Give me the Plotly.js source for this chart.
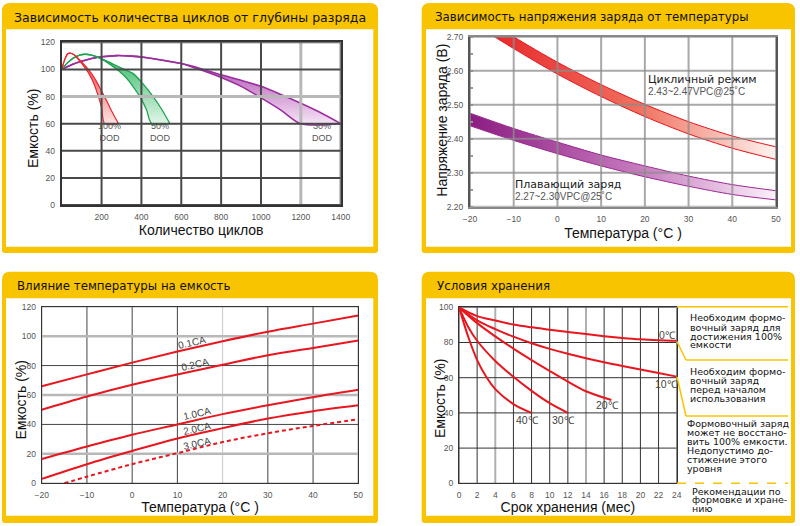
<!DOCTYPE html>
<html><head><meta charset="utf-8">
<script src="https://cdn.plot.ly/plotly-3.0.1.min.js"></script>
<style>html,body{margin:0;padding:0;background:#fff}#chart{width:800px;height:526px}</style>
</head><body><div id="chart"></div>
<script>
// ---------- Panel 1: cycles vs depth of discharge ----------
const cycTicks = [200, 400, 600, 800, 1000, 1200, 1400];
const capTicks1 = [0, 20, 40, 60, 80, 100, 120];
const dod100InX = [0, 10, 20, 30, 42, 60, 80, 100, 120, 140, 160, 180, 200, 216, 285];
const dod100InY = [100, 105, 109, 111.5, 112, 111, 108, 104.5, 100.5, 96, 90, 82, 72, 60, 60];
const dod100OutX = [0, 10, 20, 30, 42, 60, 80, 100, 125, 150, 175, 200, 225, 250, 270, 285];
const dod100OutY = [100, 105, 109, 111.5, 112, 111, 108.5, 105.5, 101.5, 97, 91, 84, 77, 69.5, 64, 60];
const dod50InX = [0, 30, 60, 90, 117, 150, 200, 250, 290, 326, 360, 393, 425, 452, 543];
const dod50InY = [100, 105, 108.5, 110.5, 111.2, 110.5, 107.5, 103, 98.5, 93.5, 87, 79.8, 70.5, 60, 60];
const dod50OutX = [0, 30, 60, 90, 117, 150, 200, 250, 300, 359, 410, 460, 500, 543];
const dod50OutY = [100, 105, 108.5, 110.5, 111.2, 110.5, 108, 104.5, 101, 96.9, 89, 79.8, 71, 60];
const dod30InX = [0, 50, 100, 150, 200, 276, 350, 420, 500, 600, 700, 800, 900, 1000, 1100, 1200, 1400];
const dod30InY = [100, 103.5, 106, 108, 109.3, 110.2, 109.8, 108.8, 107, 104.3, 99.5, 94, 87.5, 79, 70, 60, 60];
const dod30OutX = [0, 50, 100, 150, 200, 276, 350, 420, 500, 600, 700, 800, 900, 1000, 1100, 1200, 1300, 1400];
const dod30OutY = [100, 103.5, 106, 108, 109.3, 110.2, 109.8, 108.8, 107, 104.3, 100.5, 96, 92, 87.5, 81.5, 75, 68, 60];
const dodLabels = ['100%<br>DOD', '50%<br>DOD', '30%<br>DOD'];
const dodLabelX = [242, 496, 1311];
const dodLabelY = [53.5, 53.5, 53.5];

// ---------- Panel 2: charge voltage vs temperature ----------
const tempT = [-20, -10, 0, 10, 20, 30, 40, 50];
const cycleUpper = [2.785, 2.70, 2.625, 2.559, 2.501, 2.45, 2.408, 2.376];
const cycleLower = [2.745, 2.665, 2.59, 2.524, 2.465, 2.414, 2.372, 2.339];
const floatUpper = [2.475, 2.43, 2.39, 2.352, 2.32, 2.29, 2.265, 2.247];
const floatLower = [2.438, 2.395, 2.356, 2.32, 2.288, 2.26, 2.236, 2.22];
const voltTicks = [2.2, 2.3, 2.4, 2.5, 2.6, 2.7];
const tempTicks = [-20, -10, 0, 10, 20, 30, 40, 50];

// ---------- Panel 3: temperature effect on capacity ----------
const capT = [-20, -10, 0, 10, 20, 30, 40, 50];
const cap01 = [66, 74, 82, 89.5, 96.5, 103, 108.5, 114];
const cap02 = [50, 59, 67, 74, 80.5, 87, 92, 97];
const cap10 = [16.5, 25, 33, 40, 47, 53, 58.5, 63.5];
const cap20 = [3, 13, 22, 30.5, 37.5, 44, 49, 53];
const cap30T = [-15, -10, 0, 10, 20, 30, 40, 50];
const cap30 = [0, 4.5, 13, 20.5, 28, 34, 39, 43.5];
const caLabels = ['0.1CA', '0.2CA', '1.0CA', '2.0CA', '3.0CA'];
const caLabelX = [13.2, 13.9, 14.3, 14.3, 14.3];
const caLabelY = [95.5, 80.7, 47.5, 37.5, 27.3];

// ---------- Panel 4: storage ----------
const st0X = [0, 2, 4, 6, 8, 10, 12, 14, 16, 18, 20, 22, 24];
const st0Y = [100, 95, 92.5, 90.2, 88.6, 87.3, 86, 84.8, 83.6, 82.6, 81.8, 81.3, 81];
const st10X = [0, 2, 4, 6, 8, 10, 12, 14, 16, 18, 20, 22, 24];
const st10Y = [100, 92.6, 87.6, 83.3, 79.6, 76.4, 73.6, 71.1, 68.8, 66.7, 64.7, 62.7, 60.6];
const st20X = [0, 2, 4, 6, 8, 10, 12, 14, 16.8];
const st20Y = [100, 91, 83.5, 76.5, 70, 63.8, 57.8, 52.3, 47.3];
const st30X = [0, 1, 2, 4, 6, 8, 10, 12];
const st30Y = [100, 89, 81, 69.5, 60.5, 52.5, 45.5, 40];
const st40X = [0, 0.5, 1, 2, 3, 4, 6, 8];
const st40Y = [100, 91.5, 83.5, 70, 60.5, 53.5, 45, 40];
const stLabels = ['0℃', '10℃', '20℃', '30℃', '40℃'];
const stLabelX = [23.0, 22.9, 16.4, 11.5, 7.5];
const stLabelY = [84.5, 56.6, 44.3, 35.8, 35.8];
const monthTicks = [0, 2, 4, 6, 8, 10, 12, 14, 16, 18, 20, 22, 24];
const capTicks4 = [0, 20, 40, 60, 80, 100];
const noteBlocks = [
  ['Необходим формо-', 'вочный заряд для', 'достижения 100%', 'емкости'],
  ['Необходим формо-', 'вочный заряд', 'перед началом', 'использования'],
  ['Формовочный заряд', 'может не восстано-', 'вить 100% емкости.', 'Недопустимо до-', 'стижение этого', 'уровня'],
  ['Рекомендации по', 'формовке и хране-', 'нию']
];

const panelTitles = ['Зависимость количества циклов от глубины разряда', 'Зависимость напряжения заряда от температуры',
  'Влияние температуры на емкость', 'Условия хранения'];
const xTitles = ['Количество циклов', 'Температура (°C )', 'Температура (°C )', 'Срок хранения (мес)'];
const yTitles = ['Емкость (%)', 'Напряжение заряда (В)', 'Емкость (%)', 'Емкость (%)'];

// ---------- layout helpers ----------
const W = 800, H = 526;
const fx = v => v / W;
const fy = v => 1 - v / H;
const YEL = '#f8c400';
const RED = '#e8161e';
const ranges = {'': [[0, 1400], [0, 120]], '2': [[-20, 50], [2.2, 2.7]], '3': [[-20, 50], [0, 120]], '4': [[0, 24], [0, 100]]};

function rr(x0, y0, x1, y1, r, rb) {
  const p = (x, y) => fx(x).toFixed(5) + ',' + fy(y).toFixed(5);
  return 'M' + p(x0, y0 + r) + ' Q' + p(x0, y0) + ' ' + p(x0 + r, y0) + ' L' + p(x1 - r, y0) + ' Q' + p(x1, y0) + ' ' + p(x1, y0 + r) +
    ' L' + p(x1, y1 - rb) + ' Q' + p(x1, y1) + ' ' + p(x1 - rb, y1) + ' L' + p(x0 + rb, y1) + ' Q' + p(x0, y1) + ' ' + p(x0, y1 - rb) + ' Z';
}

const frames = [[2, 3, 378, 253], [421.7, 3, 795, 253], [2, 271.7, 378, 523], [421.7, 271.7, 795, 523]];
const inners = [[6, 29.3, 373.3, 246.7], [426, 29.3, 791, 246.7], [6, 298.3, 373.3, 515.7], [426, 298.3, 791, 515.7]];
const titlePos = [[12.3, 17], [433.3, 17], [15, 285.7], [435, 286]];
const titleSize = [12.5, 11.8, 11.8, 11.8];
const yTitlePos = [[33, 129], [441.7, 120], [20, 400.5], [440, 399]];

const shapes = [];
frames.forEach(f => shapes.push({type: 'path', xref: 'paper', yref: 'paper', path: rr(f[0], f[1], f[2], f[3], 8, 3), fillcolor: YEL, line: {width: 0}, layer: 'below'}));
inners.forEach(f => shapes.push({type: 'rect', xref: 'paper', yref: 'paper', x0: fx(f[0]), x1: fx(f[2]), y0: fy(f[3]), y1: fy(f[1]), fillcolor: '#ffffff', line: {width: 0}, layer: 'below'}));

// grid lines at the axis tick values
const dark = (c, w) => ({color: c || '#333', width: w || 1});
const gray = w => ({color: '#b8b8b8', width: w || 2.5});
function grid(ax, xv, yv, xStyle, yStyle, layer) {
  const xr = ranges[ax][0], yr = ranges[ax][1];
  xv.forEach(v => { const s = xStyle(v); if (s) shapes.push({type: 'line', xref: 'x' + ax, yref: 'y' + ax, x0: v, x1: v, y0: yr[0], y1: yr[1], line: s, layer: layer}); });
  yv.forEach(v => { const s = yStyle(v); if (s) shapes.push({type: 'line', xref: 'x' + ax, yref: 'y' + ax, x0: xr[0], x1: xr[1], y0: v, y1: v, line: s, layer: layer}); });
}
grid('', cycTicks, capTicks1, v => v === 1200 ? gray(3) : dark('#484848', 2), v => v === 80 ? gray(3) : dark('#484848', 2), 'above');
grid('2', tempTicks, voltTicks, v => dark('rgba(140,140,140,0.75)', 2), v => dark('rgba(140,140,140,0.75)', 2), 'above');
grid('3', tempTicks, capTicks1, v => v === 20 ? dark('#c8c8c8') : dark('#444'),
  v => (v === 20 || v === 60 || v === 100) ? gray() : dark('#444'), 'below');
grid('4', monthTicks, capTicks4, v => (v === 4 || v === 14) ? {color: '#b0b0b0', width: 2} : dark(), v => dark(), 'below');

// yellow separators on the right of panel 4
const seg = (x0, y0, x1, y1, dash) => shapes.push({type: 'line', xref: 'paper', yref: 'paper', x0: fx(x0), y0: fy(y0), x1: fx(x1), y1: fy(y1), line: {color: YEL, width: 1.5, dash: dash || 'solid'}});
seg(677, 306.7, 788, 306.7);
seg(677, 341.7, 686, 360); seg(686, 360, 788, 360);
seg(677, 377, 686, 416); seg(686, 416, 788, 416);
seg(677, 483.3, 788, 483.3, 'dash');

// ---------- traces ----------
const traces = [];
function band(xIn, yIn, xOut, yOut, lineColor, lw, grad, ax) {
  traces.push({x: xIn, y: yIn, type: 'scatter', mode: 'lines', line: {color: lineColor, width: lw, shape: 'spline', smoothing: 0.8},
    xaxis: 'x' + ax, yaxis: 'y' + ax, showlegend: false, hoverinfo: 'skip'});
  traces.push({x: xOut, y: yOut, type: 'scatter', mode: 'lines', line: {color: lineColor, width: lw, shape: 'spline', smoothing: 0.8},
    fill: 'tonexty', fillgradient: grad, xaxis: 'x' + ax, yaxis: 'y' + ax, showlegend: false, hoverinfo: 'skip'});
}
band(dod30InX, dod30InY, dod30OutX, dod30OutY, '#9c2fa0', 1.6, {type: 'vertical', colorscale: [[0, '#f7e6f7'], [1, '#a53ea8']]}, '');
band(dod50InX, dod50InY, dod50OutX, dod50OutY, '#1ea352', 1.3, {type: 'vertical', colorscale: [[0, '#e4f6ea'], [1, '#36b866']]}, '');
band(dod100InX, dod100InY, dod100OutX, dod100OutY, '#e8262e', 1.2, {type: 'vertical', colorscale: [[0, '#fde6e4'], [1, '#e8383c']]}, '');

band(tempT, cycleLower, tempT, cycleUpper, '#e3141c', 1, {type: 'horizontal', colorscale: [[0, '#e51d25'], [0.55, '#f0705e'], [1, '#fff3ef']]}, '2');
band(tempT, floatLower, tempT, floatUpper, '#9a2a90', 1, {type: 'horizontal', colorscale: [[0, '#8c1c82'], [0.55, '#c67abd'], [1, '#fbf0fa']]}, '2');

[cap01, cap02, cap10, cap20].forEach(v => traces.push({x: capT, y: v, type: 'scatter', mode: 'lines',
  line: {color: RED, width: 2, shape: 'spline'}, xaxis: 'x3', yaxis: 'y3', showlegend: false, hoverinfo: 'skip'}));
traces.push({x: cap30T, y: cap30, type: 'scatter', mode: 'lines', line: {color: RED, width: 2, shape: 'spline', dash: '4px,3px'},
  xaxis: 'x3', yaxis: 'y3', showlegend: false, hoverinfo: 'skip'});

[[st0X, st0Y], [st10X, st10Y], [st20X, st20Y], [st30X, st30Y], [st40X, st40Y]].forEach(s => traces.push({x: s[0], y: s[1], type: 'scatter', mode: 'lines',
  line: {color: RED, width: 2, shape: 'spline'}, xaxis: 'x4', yaxis: 'y4', showlegend: false, hoverinfo: 'skip'}));

// ---------- annotations ----------
const ann = [];
panelTitles.forEach((t, i) => ann.push({text: t, xref: 'paper', yref: 'paper', x: fx(titlePos[i][0]), y: fy(titlePos[i][1]),
  xanchor: 'left', yanchor: 'middle', showarrow: false, font: {family: 'DejaVu Sans', size: titleSize[i], color: '#111'}}));
yTitles.forEach((t, i) => ann.push({text: t, xref: 'paper', yref: 'paper', x: fx(yTitlePos[i][0]), y: fy(yTitlePos[i][1]), textangle: -90,
  xanchor: 'center', yanchor: 'middle', showarrow: false, font: {family: 'Liberation Sans, Arial', size: 14, color: '#111'}}));
dodLabels.forEach((t, i) => ann.push({text: t, xref: 'x', yref: 'y', x: dodLabelX[i], y: dodLabelY[i], showarrow: false,
  xanchor: 'center', yanchor: 'middle', font: {family: 'Liberation Sans, Arial', size: 9, color: '#555'}}));
ann.push({text: 'Цикличный режим', xref: 'x2', yref: 'y2', x: 20.2, y: 2.573, xanchor: 'left', yanchor: 'middle', showarrow: false,
  font: {family: 'DejaVu Sans', size: 11, color: '#222'}});
ann.push({text: '2.43~2.47VPC@25˚C', xref: 'x2', yref: 'y2', x: 20.2, y: 2.54, xanchor: 'left', yanchor: 'middle', showarrow: false,
  font: {family: 'Liberation Sans, Arial', size: 10, color: '#555'}});
ann.push({text: 'Плавающий заряд', xref: 'x2', yref: 'y2', x: -10.1, y: 2.264, xanchor: 'left', yanchor: 'middle', showarrow: false,
  font: {family: 'DejaVu Sans', size: 11, color: '#222'}});
ann.push({text: '2.27~2.30VPC@25˚C', xref: 'x2', yref: 'y2', x: -10.1, y: 2.231, xanchor: 'left', yanchor: 'middle', showarrow: false,
  font: {family: 'Liberation Sans, Arial', size: 10, color: '#555'}});
caLabels.forEach((t, i) => ann.push({text: t, xref: 'x3', yref: 'y3', x: caLabelX[i], y: caLabelY[i], showarrow: false, textangle: -13,
  xanchor: 'center', yanchor: 'middle', font: {family: 'Liberation Sans, Arial', size: 10, color: '#444'}}));
stLabels.forEach((t, i) => ann.push({text: t, xref: 'x4', yref: 'y4', x: stLabelX[i], y: stLabelY[i], showarrow: false,
  xanchor: 'center', yanchor: 'middle', font: {family: 'Liberation Sans, Arial', size: 10.5, color: '#444'}}));
const noteX = [687.7, 688.3, 685, 690];
const noteY = [[317.7, 327.3, 336, 344.6], [371, 380.3, 389.3, 398], [423.3, 432.3, 441.5, 450.6, 459.7, 468.7], [491, 499.8, 508.7]];
noteBlocks.forEach((b, i) => b.forEach((line, j) => ann.push({text: line, xref: 'paper', yref: 'paper', x: fx(noteX[i]), y: fy(noteY[i][j]),
  xanchor: 'left', yanchor: 'middle', showarrow: false, font: {family: 'DejaVu Sans', size: 9.5, color: '#111'}})));

// ---------- axes ----------
const tickFont = {family: 'Liberation Sans, Arial', size: 8.5, color: '#555'};
const titleFont = {family: 'Liberation Sans, Arial', size: 14, color: '#111'};
function ax(domain, range, tickvals, title, standoff, line, lw, extra) {
  const o = {domain: domain, range: range, tickvals: tickvals, ticks: '', showgrid: false,
    zeroline: false, showline: true, mirror: true, linecolor: line, linewidth: lw, tickfont: tickFont, automargin: false,
    fixedrange: true, ticklabelstandoff: 3};
  if (title) o.title = {text: title, font: titleFont, standoff: standoff};
  return Object.assign(o, extra || {});
}

const layout = {
  width: W, height: H, autosize: false, margin: {l: 0, r: 0, t: 0, b: 0},
  paper_bgcolor: '#ffffff', plot_bgcolor: 'rgba(0,0,0,0)', showlegend: false,
  xaxis: ax([fx(61.7), fx(340.7)], ranges[''][0], cycTicks, xTitles[0], 3, '#333', 2, {anchor: 'y'}),
  yaxis: ax([fy(205), fy(42.3)], ranges[''][1], capTicks1, null, 0, '#333', 2, {anchor: 'x'}),
  xaxis2: ax([fx(470), fx(776)], ranges['2'][0], tempTicks, xTitles[1], 5, '#888', 2, {anchor: 'y2'}),
  yaxis2: ax([fy(206.7), fy(36.7)], ranges['2'][1], voltTicks, null, 0, '#555', 2,
    {anchor: 'x2', tickformat: '.2f', minor: {dtick: 0.05, ticks: 'inside', ticklen: 3, tickwidth: 2, tickcolor: '#999', showgrid: false}}),
  xaxis3: ax([fx(41.7), fx(358.3)], ranges['3'][0], tempTicks, xTitles[2], 1, '#333', 1, {anchor: 'y3'}),
  yaxis3: ax([fy(483.3), fy(306.7)], ranges['3'][1], capTicks1, null, 0, '#333', 1, {anchor: 'x3'}),
  xaxis4: ax([fx(459), fx(676.7)], ranges['4'][0], monthTicks, xTitles[3], 2, '#333', 1, {anchor: 'y4'}),
  yaxis4: ax([fy(483.3), fy(307.3)], ranges['4'][1], capTicks4, null, 0, '#333', 1, {anchor: 'x4'}),
  shapes: shapes,
  annotations: ann
};

Plotly.newPlot('chart', traces, layout, {displayModeBar: false, staticPlot: true});
</script>
</body></html>
